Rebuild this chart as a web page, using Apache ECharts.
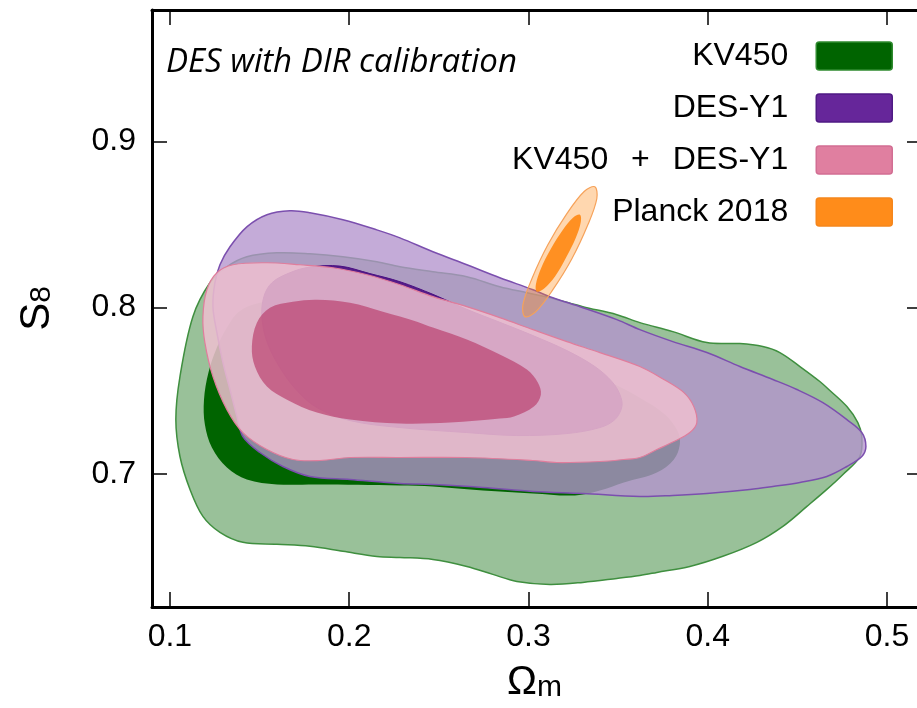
<!DOCTYPE html>
<html>
<head>
<meta charset="utf-8">
<script src="https://cdn.jsdelivr.net/npm/echarts@6.0.0/dist/echarts.min.js"></script>
<style>
  html, body { margin: 0; padding: 0; background: #fff; }
  #chart { width: 917px; height: 708px; }
</style>
</head>
<body>
<div id="chart"></div>
<script>
// Omega_m / S_8 confidence regions (outer = 95%, inner = 68%)
const xTicks = [0.1, 0.2, 0.3, 0.4, 0.5];
const yTicks = [0.7, 0.8, 0.9];
const legendNames = ['KV450', 'DES-Y1', 'KV450 + DES-Y1', 'Planck 2018'];

const kvOuter = [[0.1033,0.7327],[0.1056,0.7586],[0.1128,0.7946],[0.1223,0.8150],[0.1318,0.8246],[0.1429,0.8306],[0.1597,0.8330],[0.1781,0.8324],[0.1965,0.8306],[0.2154,0.8276],[0.2283,0.8246],[0.2467,0.8216],[0.2656,0.8186],[0.2840,0.8126],[0.2991,0.8090],[0.3119,0.8060],[0.3303,0.8006],[0.3493,0.7958],[0.3621,0.7910],[0.3805,0.7856],[0.3995,0.7790],[0.4179,0.7784],[0.4307,0.7766],[0.4402,0.7730],[0.4514,0.7646],[0.4625,0.7556],[0.4681,0.7502],[0.4776,0.7405],[0.4837,0.7309],[0.4859,0.7225],[0.4848,0.7105],[0.4754,0.6997],[0.4664,0.6907],[0.4553,0.6805],[0.4419,0.6685],[0.4274,0.6589],[0.4084,0.6505],[0.3900,0.6444],[0.3716,0.6408],[0.3621,0.6390],[0.3493,0.6372],[0.3303,0.6348],[0.3119,0.6336],[0.2935,0.6354],[0.2801,0.6396],[0.2656,0.6444],[0.2467,0.6486],[0.2283,0.6498],[0.2154,0.6504],[0.1965,0.6535],[0.1781,0.6565],[0.1597,0.6577],[0.1407,0.6589],[0.1279,0.6649],[0.1184,0.6745],[0.1112,0.6907],[0.1056,0.7105]];
const kvInner = [[0.1215,0.7610],[0.1262,0.7760],[0.1318,0.7880],[0.1385,0.7976],[0.1502,0.8030],[0.1725,0.8048],[0.2004,0.8036],[0.2283,0.7976],[0.2562,0.7898],[0.2840,0.7808],[0.3119,0.7700],[0.3398,0.7580],[0.3621,0.7459],[0.3761,0.7357],[0.3833,0.7255],[0.3844,0.7177],[0.3811,0.7087],[0.3716,0.7009],[0.3532,0.6949],[0.3398,0.6901],[0.3259,0.6871],[0.3025,0.6883],[0.2746,0.6901],[0.2467,0.6925],[0.2283,0.6931],[0.1820,0.6937],[0.1597,0.6937],[0.1429,0.6967],[0.1318,0.7039],[0.1234,0.7159],[0.1195,0.7297],[0.1190,0.7447]];
const desOuter = [[0.1240,0.8006],[0.1251,0.8150],[0.1279,0.8258],[0.1335,0.8366],[0.1429,0.8486],[0.1541,0.8559],[0.1669,0.8583],[0.1781,0.8571],[0.1965,0.8529],[0.2154,0.8468],[0.2283,0.8420],[0.2467,0.8336],[0.2656,0.8258],[0.2840,0.8180],[0.3025,0.8108],[0.3119,0.8066],[0.3303,0.8000],[0.3493,0.7928],[0.3621,0.7868],[0.3805,0.7796],[0.3995,0.7730],[0.4179,0.7646],[0.4363,0.7568],[0.4497,0.7508],[0.4642,0.7429],[0.4776,0.7327],[0.4859,0.7249],[0.4882,0.7165],[0.4859,0.7105],[0.4776,0.7045],[0.4664,0.6985],[0.4514,0.6949],[0.4363,0.6925],[0.4235,0.6907],[0.3995,0.6883],[0.3805,0.6871],[0.3621,0.6865],[0.3303,0.6883],[0.3025,0.6895],[0.2746,0.6919],[0.2467,0.6937],[0.2283,0.6943],[0.2004,0.6967],[0.1781,0.6985],[0.1630,0.7045],[0.1502,0.7129],[0.1407,0.7225],[0.1374,0.7345],[0.1335,0.7508],[0.1296,0.7670],[0.1262,0.7850]];
const desInner = [[0.1513,0.7946],[0.1524,0.8066],[0.1569,0.8150],[0.1669,0.8210],[0.1781,0.8244],[0.1948,0.8250],[0.2115,0.8205],[0.2283,0.8156],[0.2467,0.8080],[0.2656,0.7990],[0.2840,0.7912],[0.3025,0.7832],[0.3214,0.7742],[0.3370,0.7646],[0.3465,0.7556],[0.3510,0.7477],[0.3521,0.7405],[0.3482,0.7327],[0.3398,0.7279],[0.3214,0.7243],[0.2935,0.7231],[0.2656,0.7249],[0.2283,0.7279],[0.2004,0.7321],[0.1820,0.7399],[0.1708,0.7502],[0.1613,0.7640],[0.1541,0.7796]];
const jointOuter = [[0.1184,0.7946],[0.1206,0.8108],[0.1262,0.8210],[0.1351,0.8258],[0.1541,0.8270],[0.1725,0.8258],[0.1909,0.8240],[0.2099,0.8198],[0.2283,0.8138],[0.2467,0.8066],[0.2656,0.8006],[0.2840,0.7940],[0.3025,0.7868],[0.3214,0.7796],[0.3398,0.7730],[0.3621,0.7646],[0.3755,0.7568],[0.3867,0.7489],[0.3922,0.7405],[0.3939,0.7309],[0.3900,0.7249],[0.3811,0.7195],[0.3716,0.7147],[0.3621,0.7099],[0.3532,0.7087],[0.3398,0.7075],[0.3158,0.7069],[0.3025,0.7081],[0.2656,0.7099],[0.2283,0.7099],[0.2004,0.7099],[0.1837,0.7081],[0.1686,0.7087],[0.1541,0.7147],[0.1407,0.7249],[0.1318,0.7387],[0.1240,0.7586],[0.1195,0.7790]];
const jointInner = [[0.1457,0.7766],[0.1485,0.7910],[0.1558,0.8000],[0.1686,0.8036],[0.1820,0.8048],[0.2004,0.8030],[0.2188,0.7976],[0.2378,0.7916],[0.2467,0.7880],[0.2656,0.7808],[0.2840,0.7718],[0.2991,0.7628],[0.3052,0.7550],[0.3069,0.7477],[0.3030,0.7405],[0.2919,0.7345],[0.2840,0.7333],[0.2562,0.7309],[0.2283,0.7303],[0.2004,0.7327],[0.1820,0.7369],[0.1653,0.7447],[0.1541,0.7526],[0.1474,0.7646]];
const planckOuter = [[0.3370,0.8727],[0.3381,0.8655],[0.3331,0.8498],[0.3242,0.8294],[0.3136,0.8108],[0.3041,0.7976],[0.2980,0.7946],[0.2969,0.8018],[0.3019,0.8174],[0.3108,0.8378],[0.3214,0.8565],[0.3309,0.8697]];
const planckInner = [[0.3287,0.8559],[0.3292,0.8517],[0.3264,0.8420],[0.3209,0.8300],[0.3147,0.8186],[0.3086,0.8114],[0.3047,0.8096],[0.3041,0.8138],[0.3069,0.8234],[0.3125,0.8354],[0.3192,0.8468],[0.3248,0.8541]];

const FONT = 'Liberation Sans';

// One closed, smoothed polygon per contour, drawn through the cartesian axes
function region(name, pts, fill, stroke, lineWidth) {
  return {
    type: 'custom',
    name: name,
    coordinateSystem: 'cartesian2d',
    silent: true,
    clip: true,
    data: pts,
    renderItem: function (params, api) {
      if (params.dataIndexInside !== 0) return null;
      const points = [];
      for (let i = 0; i < params.dataInsideLength; i++) {
        points.push(api.coord([api.value(0, i), api.value(1, i)]));
      }
      return {
        type: 'polygon',
        shape: { points: points, smooth: 0.35 },
        style: { fill: fill, stroke: lineWidth > 0 ? stroke : null, lineWidth: lineWidth }
      };
    }
  };
}

const tickLine = { color: '#000', width: 1.5 };
const frameLine = { show: true, onZero: false, lineStyle: { color: '#000', width: 3 } };

const chart = echarts.init(document.getElementById('chart'), null, { renderer: 'canvas' });
chart.setOption({
  animation: false,
  backgroundColor: '#fff',
  title: {
    text: 'DES with DIR calibration',
    left: 166, top: 46, padding: 0,
    textStyle: { fontFamily: 'Open Sans', fontStyle: 'italic', fontWeight: 'normal', fontSize: 33, color: '#000' }
  },
  legend: {
    orient: 'vertical', right: 24, top: 40, align: 'right', padding: 0,
    itemWidth: 76, itemHeight: 28, itemGap: 20, selectedMode: false,
    icon: 'path://M3,0L73,0Q76,0,76,3L76,25Q76,28,73,28L3,28Q0,28,0,25L0,3Q0,0,3,0Z',
    formatter: function (name) { return name.replace(' + ', ' {op|+} '); },
    textStyle: {
      fontFamily: FONT, fontSize: 32, color: '#000', lineHeight: 30, padding: [0, 23, 0, 0],
      rich: { op: { fontFamily: FONT, fontSize: 32, color: '#000', lineHeight: 30, padding: [0, 14, 0, 14] } }
    },
    data: [
      { name: legendNames[0], itemStyle: { color: '#006400', borderColor: '#2f8a2f', borderWidth: 1.5 } },
      { name: legendNames[1], itemStyle: { color: '#66269a', borderColor: '#4f1a84', borderWidth: 1.5 } },
      { name: legendNames[2], itemStyle: { color: '#e07fa0', borderColor: '#d26e93', borderWidth: 1.5 } },
      { name: legendNames[3], itemStyle: { color: '#ff8c1a', borderColor: '#f5861c', borderWidth: 1.5 } }
    ]
  },
  // plot frame runs past the right edge of the page, so it ends at x = 917 here
  grid: { left: 152, top: 10, width: 765, height: 597, containLabel: false, outerBoundsMode: 'none' },
  xAxis: [{
    type: 'value', min: 0.09, max: 0.5167, position: 'bottom',
    axisLine: frameLine,
    axisTick: { inside: true, length: 15, lineStyle: tickLine, customValues: xTicks },
    axisLabel: { customValues: xTicks, formatter: function (v) { return v.toFixed(1); },
                 fontFamily: FONT, fontSize: 32, color: '#000', margin: 14 },
    splitLine: { show: false },
    name: '{o|Ω}{s|m}', nameLocation: 'middle', nameGap: 56,
    nameTextStyle: { rich: {
      o: { fontFamily: FONT, fontSize: 40, lineHeight: 40, color: '#000' },
      s: { fontFamily: FONT, fontSize: 30, lineHeight: 20, verticalAlign: 'bottom', color: '#000' }
    } }
  }, {
    type: 'value', min: 0.09, max: 0.5167, position: 'top',
    axisLine: frameLine,
    axisTick: { inside: true, length: 15, lineStyle: tickLine, customValues: xTicks },
    axisLabel: { show: false }, splitLine: { show: false }
  }],
  yAxis: [{
    type: 'value', min: 0.62, max: 0.979, position: 'left',
    axisLine: frameLine,
    axisTick: { inside: true, length: 15, lineStyle: tickLine, customValues: yTicks },
    axisLabel: { customValues: yTicks, formatter: function (v) { return v.toFixed(1); },
                 fontFamily: FONT, fontSize: 32, color: '#000', margin: 16 },
    splitLine: { show: false },
    name: '{o|S}{s|8}', nameLocation: 'middle', nameRotate: 90, nameGap: 95,
    nameTextStyle: { rich: {
      o: { fontFamily: FONT, fontSize: 42, lineHeight: 40, color: '#000' },
      s: { fontFamily: FONT, fontSize: 30, lineHeight: 14, verticalAlign: 'bottom', color: '#000' }
    } }
  }, {
    type: 'value', min: 0.62, max: 0.979, position: 'right',
    axisLine: { show: false },
    axisTick: { show: true, inside: true, length: 10, lineStyle: tickLine, customValues: yTicks },
    axisLabel: { show: false }, splitLine: { show: false }
  }],
  series: [
    region('KV450', kvOuter, 'rgba(0,100,0,0.4)', '#3f8f3f', 1.5),
    region('KV450', kvInner, '#006400', null, 0),
    region('DES-Y1', desOuter, 'rgba(180,148,205,0.78)', '#7b4fae', 1.5),
    region('DES-Y1', desInner, 'rgba(75,15,130,0.9)', '#4b0f82', 1),
    region('KV450 + DES-Y1', jointOuter, 'rgba(238,192,208,0.85)', '#e07d9c', 1.2),
    region('KV450 + DES-Y1', jointInner, 'rgba(186,65,111,0.7)', null, 0),
    region('Planck 2018', planckOuter, 'rgba(255,140,26,0.35)', '#f6a25a', 1.2),
    region('Planck 2018', planckInner, 'rgba(255,140,26,0.95)', null, 0)
  ]
});
</script>
</body>
</html>
